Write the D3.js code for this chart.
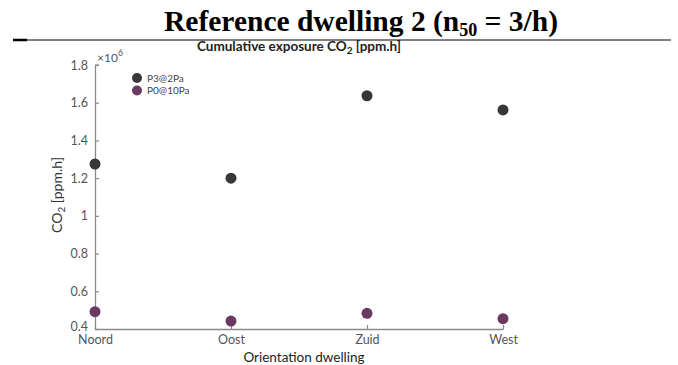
<!DOCTYPE html>
<html>
<head>
<meta charset="utf-8">
<script src="https://cdn.jsdelivr.net/npm/d3@7"></script>
<style>
  body { margin: 0; background: #fff; }
  svg { display: block; }
</style>
</head>
<body>
<svg id="chart" width="678" height="365"></svg>
<script>
// categories and series (values x 1e6)
const orientations = ["Noord", "Oost", "Zuid", "West"];
const p3at2Pa = [1.275, 1.20, 1.637, 1.562];
const p0at10Pa = [0.492, 0.442, 0.483, 0.455];
const yTicks = [0.4, 0.6, 0.8, 1, 1.2, 1.4, 1.6, 1.8];
const seriesNames = ["P3@2Pa", "P0@10Pa"];
const seriesColors = ["#383838", "#6b3a63"];

const svg = d3.select("#chart");
const font = "Lato, 'Open Sans', sans-serif";
const axisGrey = "#8a8a8a";
const textGrey = "#555";

// page header
svg.append("text")
    .attr("x", 361).attr("y", 31)
    .attr("text-anchor", "middle")
    .attr("font-family", "'Liberation Serif', 'Times New Roman', serif")
    .attr("font-weight", "bold")
    .attr("font-size", 29.5)
    .text("Reference dwelling 2 (n")
    .append("tspan").attr("font-size", 18).attr("dy", 5).text("50")
    .select(function() { return this.parentNode; })
    .append("tspan").attr("dy", -5).text(" = 3/h)");

svg.append("line").attr("x1", 13).attr("x2", 27).attr("y1", 40).attr("y2", 40)
    .attr("stroke", "#000").attr("stroke-width", 2.5);
svg.append("line").attr("x1", 27).attr("x2", 671).attr("y1", 40).attr("y2", 40)
    .attr("stroke", "#000").attr("stroke-width", 1);

// scales
const x = d3.scalePoint().domain(orientations).range([95, 503]);
const y = d3.scaleLinear().domain([0.4, 1.8]).range([329, 65]);

// axes (MATLAB-style inward ticks)
const yAxis = svg.append("g")
    .attr("transform", "translate(95,0)")
    .call(d3.axisLeft(y).tickValues(yTicks).tickSizeInner(-4).tickSizeOuter(0)
        .tickPadding(7).tickFormat(d3.format("~g")));
const xAxis = svg.append("g")
    .attr("transform", "translate(0,329)")
    .call(d3.axisBottom(x).tickSizeInner(-4).tickSizeOuter(0).tickPadding(6));

[xAxis, yAxis].forEach(g => {
    g.select(".domain").attr("stroke", axisGrey).attr("stroke-width", 1.3);
    g.selectAll(".tick line").attr("stroke", axisGrey).attr("stroke-width", 1.2);
    g.selectAll(".tick text").attr("fill", textGrey)
        .attr("font-family", font).attr("font-size", 12.5);
});
// lift the lowest y label a little, as in the original
yAxis.selectAll(".tick text").filter(d => d === 0.4).attr("dy", "0.1em");

// top cap of y axis
svg.append("line").attr("x1", 95).attr("x2", 99).attr("y1", y(1.8)).attr("y2", y(1.8))
    .attr("stroke", axisGrey).attr("stroke-width", 1.2);

// exponent label
svg.append("text").attr("x", 97).attr("y", 62)
    .attr("font-family", font).attr("font-size", 12).attr("fill", textGrey)
    .text("\u00d710")
    .append("tspan").attr("font-size", 8.5).attr("dy", -6).text("6");

// chart title
svg.append("text").attr("x", 299).attr("y", 51)
    .attr("text-anchor", "middle")
    .attr("font-family", font).attr("font-weight", "bold").attr("font-size", 13.5)
    .attr("fill", "#222")
    .text("Cumulative exposure CO")
    .append("tspan").attr("font-size", 10).attr("dy", 3).text("2")
    .select(function() { return this.parentNode; })
    .append("tspan").attr("dy", -3).text(" [ppm.h]");

// axis labels
svg.append("text").attr("transform", "translate(62,195) rotate(-90)")
    .attr("text-anchor", "middle")
    .attr("font-family", font).attr("font-size", 14).attr("fill", "#333")
    .text("CO")
    .append("tspan").attr("font-size", 10).attr("dy", 3).text("2")
    .select(function() { return this.parentNode; })
    .append("tspan").attr("dy", -3).text(" [ppm.h]");

svg.append("text").attr("x", 304).attr("y", 362)
    .attr("text-anchor", "middle")
    .attr("font-family", font).attr("font-size", 13.5).attr("fill", "#222")
    .text("Orientation dwelling");

// points
[p3at2Pa, p0at10Pa].forEach((series, i) => {
    svg.append("g").selectAll("circle")
        .data(series)
        .join("circle")
        .attr("cx", (d, j) => x(orientations[j]))
        .attr("cy", d => y(d))
        .attr("r", 5.5)
        .attr("fill", seriesColors[i]);
});

// legend
const legend = svg.append("g").attr("transform", "translate(137,78)");
seriesNames.forEach((name, i) => {
    const row = legend.append("g").attr("transform", `translate(0,${i * 12.5})`);
    row.append("circle").attr("r", 5).attr("fill", seriesColors[i]);
    row.append("text").attr("x", 10).attr("y", 3.5)
        .attr("font-family", font).attr("font-size", 10).attr("fill", "#444")
        .text(name);
});
</script>
</body>
</html>
